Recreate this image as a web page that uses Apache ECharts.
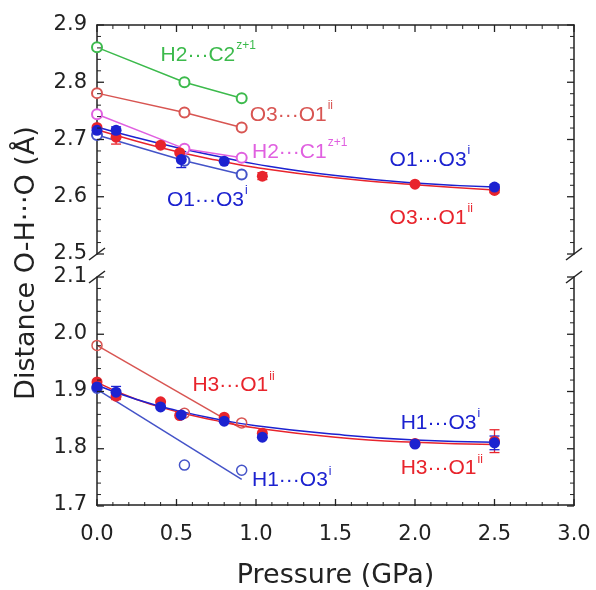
<!DOCTYPE html>
<html>
<head>
<meta charset="utf-8">
<script src="https://cdn.jsdelivr.net/npm/echarts@6/dist/echarts.min.js"></script>
<style>
  html, body { margin: 0; padding: 0; background: #fff; }
  #chart { width: 596px; height: 590px; }
</style>
</head>
<body>
<div id="chart"></div>
<script>
// ---- O···O / H···C distances (upper panel, Å) ----
const h2c2P = [0, 0.55, 0.91];
const h2c2D = [2.861, 2.800, 2.772];

const o3o1OpenP = [0, 0.55, 0.91];
const o3o1OpenD = [2.781, 2.747, 2.721];

const h2c1P = [0, 0.55, 0.91];
const h2c1D = [2.744, 2.684, 2.668];

const o1o3OpenP = [0, 0.55, 0.91];
const o1o3OpenD = [2.708, 2.663, 2.639];

const o3o1P = [0, 0.12, 0.40, 0.52, 1.04, 2.0, 2.5];
const o3o1D = [2.721, 2.704, 2.690, 2.677, 2.636, 2.622, 2.611];
const o3o1Err = [0, 0.012, 0, 0, 0.006, 0, 0.004];

const o1o3P = [0, 0.12, 0.53, 0.80, 2.5];
const o1o3D = [2.716, 2.716, 2.665, 2.662, 2.617];
const o1o3Err = [0, 0.006, 0.014, 0, 0.004];

// smooth compression curves through the filled points
const fitP = [0, 0.25, 0.5, 0.75, 1.0, 1.5, 2.0, 2.5];
const o1o3Fit = [2.722, 2.703, 2.686, 2.671, 2.657, 2.637, 2.624, 2.617];
const o3o1Fit = [2.717, 2.697, 2.679, 2.664, 2.651, 2.633, 2.621, 2.612];

// ---- H···O distances (lower panel, Å) ----
const h3o1OpenP = [0, 0.55, 0.91];
const h3o1OpenD = [1.980, 1.861, 1.844];
const h3o1LineP = [0, 0.89];
const h3o1LineD = [1.980, 1.837];

const h1o3OpenP = [0, 0.55, 0.91];
const h1o3OpenD = [1.905, 1.770, 1.761];
const h1o3LineP = [0, 0.91];
const h1o3LineD = [1.903, 1.745];

const h3o1P = [0, 0.12, 0.40, 0.52, 0.80, 1.04, 2.0, 2.5];
const h3o1D = [1.916, 1.891, 1.881, 1.857, 1.854, 1.826, 1.808, 1.812];
const h3o1Err = [0, 0.006, 0, 0, 0, 0, 0, 0.020];

const h1o3P = [0, 0.12, 0.40, 0.53, 0.80, 1.04, 2.0, 2.5];
const h1o3D = [1.907, 1.898, 1.872, 1.858, 1.847, 1.819, 1.807, 1.809];
const h1o3Err = [0, 0.010, 0, 0, 0, 0, 0, 0.012];

const h1o3Fit = [1.910, 1.885, 1.866, 1.851, 1.839, 1.824, 1.814, 1.810];
const h3o1Fit = [1.915, 1.885, 1.864, 1.848, 1.835, 1.819, 1.810, 1.806];

// ---- axis ticks ----
const xTicks = ['0.0', '0.5', '1.0', '1.5', '2.0', '2.5', '3.0'];
const yTicksTop = ['2.5', '2.6', '2.7', '2.8', '2.9'];
const yTicksBottom = ['1.7', '1.8', '1.9', '2.0', '2.1'];
const MINOR_DIVISIONS = 5;

// ---- colours ----
const GREEN = '#3cba4c';
const RED = '#e8242c';
const RED_OPEN = '#d85552';
const BLUE = '#1c22d0';
const BLUE_OPEN = '#4453c8';
const MAGENTA = '#e060e0';

// ---- annotation anchors: [pressure, distance, panel, main text, superscript, colour] ----
const annotations = [
  [0.40, 2.848, 0, 'H2···C2', 'z+1', GREEN],
  [0.96, 2.743, 0, 'O3···O1', 'ii', RED_OPEN],
  [0.975, 2.678, 0, 'H2···C1', 'z+1', MAGENTA],
  [1.84, 2.664, 0, 'O1···O3', 'i', BLUE],
  [0.44, 2.594, 0, 'O1···O3', 'i', BLUE],
  [1.84, 2.563, 0, 'O3···O1', 'ii', RED],
  [0.60, 1.911, 1, 'H3···O1', 'ii', RED],
  [1.91, 1.845, 1, 'H1···O3', 'i', BLUE],
  [1.91, 1.766, 1, 'H3···O1', 'ii', RED],
  [0.975, 1.745, 1, 'H1···O3', 'i', BLUE]
];

const zip = (xs, ys) => xs.map((x, i) => [x, ys[i]]);
const zip3 = (xs, ys, es) => xs.map((x, i) => [x, ys[i], es[i]]);

const AXIS_COLOR = '#222';
const TICK_FONT = 'DejaVu Sans';
const NOTE_FONT = 'Liberation Sans';

const CHART_W = 596;
const GRID_LEFT = 97, GRID_RIGHT = 22;
const TOP_Y = 25, PANEL_H = 229, BOTTOM_Y = 277;
const PLOT_W = CHART_W - GRID_LEFT - GRID_RIGHT;

function xAxisFor(gridIndex, position, showLabels) {
  return {
    type: 'value', gridIndex, position, min: 0, max: 3, interval: 0.5,
    axisLine: { show: true, onZero: false, lineStyle: { color: AXIS_COLOR, width: 1.5 } },
    axisTick: { show: false },
    splitLine: { show: false },
    axisLabel: {
      show: showLabels, margin: 19, color: '#222', fontSize: 21, fontFamily: TICK_FONT,
      formatter: v => xTicks[Math.round(v / 0.5)]
    },
    name: showLabels ? 'Pressure (GPa)' : '',
    nameLocation: 'middle', nameGap: 57,
    nameTextStyle: { color: '#222', fontSize: 27, fontFamily: TICK_FONT }
  };
}

function yAxisFor(gridIndex, position, min, max, ticks, showLabels) {
  return {
    type: 'value', gridIndex, position, min, max, interval: 0.1,
    axisLine: { show: true, onZero: false, lineStyle: { color: AXIS_COLOR, width: 1.5 } },
    axisTick: { show: false },
    splitLine: { show: false },
    axisLabel: {
      show: showLabels, margin: 10, color: '#222', fontSize: 21, fontFamily: TICK_FONT,
      formatter: v => ticks[Math.round((v - min) / 0.1)]
    }
  };
}

function openLine(panel, data, color, lineColor) {
  return {
    type: 'line', xAxisIndex: panel, yAxisIndex: panel * 2, data,
    symbol: 'emptyCircle', symbolSize: 10, z: 3,
    lineStyle: { color: lineColor || color, width: 1.5 },
    itemStyle: { color, borderColor: color, borderWidth: 1.5 }
  };
}

function plainLine(panel, data, color, smooth) {
  return {
    type: 'line', xAxisIndex: panel, yAxisIndex: panel * 2, data,
    symbol: 'none', smooth: smooth ? 0.5 : false, z: 2,
    lineStyle: { color, width: 1.5 }
  };
}

function openPoints(panel, data, color) {
  return {
    type: 'scatter', xAxisIndex: panel, yAxisIndex: panel * 2, data,
    symbol: 'circle', symbolSize: 10, z: 3,
    itemStyle: { color: 'rgba(255,255,255,0)', borderColor: color, borderWidth: 1.5, opacity: 1 }
  };
}

function filled(panel, data, color) {
  return {
    type: 'scatter', xAxisIndex: panel, yAxisIndex: panel * 2, data,
    symbol: 'circle', symbolSize: 11, z: 4,
    itemStyle: { color, opacity: 1 }
  };
}

function errorBars(panel, data, color) {
  return {
    type: 'custom', xAxisIndex: panel, yAxisIndex: panel * 2, data, z: 4,
    renderItem: (params, api) => {
      const x = api.value(0), y = api.value(1), e = api.value(2);
      const hi = api.coord([x, y + e]);
      const lo = api.coord([x, y - e]);
      const style = { stroke: color, lineWidth: 1.3 };
      return {
        type: 'group',
        children: [
          { type: 'line', shape: { x1: hi[0], y1: hi[1], x2: lo[0], y2: lo[1] }, style },
          { type: 'line', shape: { x1: hi[0] - 5, y1: hi[1], x2: hi[0] + 5, y2: hi[1] }, style },
          { type: 'line', shape: { x1: lo[0] - 5, y1: lo[1], x2: lo[0] + 5, y2: lo[1] }, style }
        ]
      };
    }
  };
}

const withErrors = (p, d, e) => zip3(p, d, e).filter(r => r[2] > 0);

const chart = echarts.init(document.getElementById('chart'), null, { renderer: 'canvas' });

chart.setOption({
  animation: false,
  backgroundColor: '#fff',
  grid: [
    { left: GRID_LEFT, right: GRID_RIGHT, top: TOP_Y, height: PANEL_H },
    { left: GRID_LEFT, right: GRID_RIGHT, top: BOTTOM_Y, height: PANEL_H }
  ],
  xAxis: [
    xAxisFor(0, 'top', false),
    xAxisFor(1, 'bottom', true)
  ],
  yAxis: [
    yAxisFor(0, 'left', 2.5, 2.9, yTicksTop, true),
    yAxisFor(0, 'right', 2.5, 2.9, yTicksTop, false),
    yAxisFor(1, 'left', 1.7, 2.1, yTicksBottom, true),
    yAxisFor(1, 'right', 1.7, 2.1, yTicksBottom, false)
  ],
  series: [
    // upper panel
    openLine(0, zip(h2c2P, h2c2D), GREEN),
    openLine(0, zip(o3o1OpenP, o3o1OpenD), RED_OPEN),
    openLine(0, zip(h2c1P, h2c1D), MAGENTA),
    openLine(0, zip(o1o3OpenP, o1o3OpenD), BLUE_OPEN),
    plainLine(0, zip(fitP, o3o1Fit), RED, true),
    plainLine(0, zip(fitP, o1o3Fit), BLUE, true),
    errorBars(0, withErrors(o3o1P, o3o1D, o3o1Err), RED),
    errorBars(0, withErrors(o1o3P, o1o3D, o1o3Err), BLUE),
    filled(0, zip(o3o1P, o3o1D), RED),
    filled(0, zip(o1o3P, o1o3D), BLUE),
    // lower panel
    plainLine(1, zip(h3o1LineP, h3o1LineD), RED_OPEN, false),
    plainLine(1, zip(h1o3LineP, h1o3LineD), BLUE_OPEN, false),
    openPoints(1, zip(h3o1OpenP, h3o1OpenD), RED_OPEN),
    openPoints(1, zip(h1o3OpenP, h1o3OpenD), BLUE_OPEN),
    plainLine(1, zip(fitP, h3o1Fit), RED, true),
    plainLine(1, zip(fitP, h1o3Fit), BLUE, true),
    errorBars(1, withErrors(h3o1P, h3o1D, h3o1Err), RED),
    errorBars(1, withErrors(h1o3P, h1o3D, h1o3Err), BLUE),
    filled(1, zip(h3o1P, h3o1D), RED),
    filled(1, zip(h1o3P, h1o3D), BLUE)
  ]
});

// ---- frame decorations: inward ticks, axis breaks, titles, annotations ----
const MAJOR_LEN = 7, MINOR_LEN = 4;
const decorations = [];

function tickFractions(labels) {
  // positions as fractions of the axis span, with minor ticks between majors
  const n = labels.length - 1;
  const out = [];
  for (let i = 0; i <= n; i++) {
    out.push([i / n, true]);
    if (i < n) for (let k = 1; k < MINOR_DIVISIONS; k++) out.push([(i + k / MINOR_DIVISIONS) / n, false]);
  }
  return out;
}

function tickLine(x1, y1, x2, y2, major) {
  decorations.push({
    type: 'line', z: 10, silent: true,
    shape: { x1, y1, x2, y2 },
    style: { stroke: AXIS_COLOR, lineWidth: major ? 1.3 : 1 }
  });
}

const panels = [
  { top: TOP_Y, edge: TOP_Y, dir: 1, ticks: yTicksTop },
  { top: BOTTOM_Y, edge: BOTTOM_Y + PANEL_H, dir: -1, ticks: yTicksBottom }
];

panels.forEach(panel => {
  tickFractions(xTicks).forEach(([f, major]) => {
    const x = GRID_LEFT + f * PLOT_W;
    const len = major ? MAJOR_LEN : MINOR_LEN;
    tickLine(x, panel.edge, x, panel.edge + panel.dir * len, major);
  });
  tickFractions(panel.ticks).forEach(([f, major]) => {
    const y = panel.top + PANEL_H - f * PANEL_H;
    const len = major ? MAJOR_LEN : MINOR_LEN;
    tickLine(GRID_LEFT, y, GRID_LEFT + len, y, major);
    tickLine(GRID_LEFT + PLOT_W, y, GRID_LEFT + PLOT_W - len, y, major);
  });
});

// axis-break marks on both vertical axes
[GRID_LEFT, GRID_LEFT + PLOT_W].forEach(x => {
  [TOP_Y + PANEL_H, BOTTOM_Y].forEach(y => {
    decorations.push({
      type: 'line', z: 10, silent: true,
      shape: { x1: x - 8, y1: y + 6, x2: x + 8, y2: y - 6 },
      style: { stroke: AXIS_COLOR, lineWidth: 1.5 }
    });
  });
});

// rotated y-axis title
decorations.push({
  type: 'text',
  x: 27, y: 263, rotation: Math.PI / 2,
  style: {
    text: 'Distance O-H···O (Å)',
    fill: '#222', fontSize: 27, fontFamily: TICK_FONT,
    align: 'center', verticalAlign: 'middle'
  }
});

// bond-distance annotations: main text plus a raised superscript
const measureCtx = document.createElement('canvas').getContext('2d');
measureCtx.font = '21px "' + NOTE_FONT + '"';

annotations.forEach(([p, d, panelIndex, main, sup, color]) => {
  const panel = panels[panelIndex];
  const yMin = Number(panel.ticks[0]);
  const yMax = Number(panel.ticks[panel.ticks.length - 1]);
  const x = GRID_LEFT + (p - Number(xTicks[0])) / (Number(xTicks[xTicks.length - 1]) - Number(xTicks[0])) * PLOT_W;
  const y = panel.top + (yMax - d) / (yMax - yMin) * PANEL_H;
  const w = measureCtx.measureText(main).width;
  decorations.push({
    type: 'text', x, y, z: 11, silent: true,
    style: { text: main, fill: color, fontSize: 21, fontFamily: NOTE_FONT, align: 'left', verticalAlign: 'middle' }
  });
  decorations.push({
    type: 'text', x: x + w + 1, y: y - 9, z: 11, silent: true,
    style: { text: sup, fill: color, fontSize: 12, fontFamily: NOTE_FONT, align: 'left', verticalAlign: 'middle' }
  });
});

chart.setOption({ graphic: decorations });
</script>
</body>
</html>
